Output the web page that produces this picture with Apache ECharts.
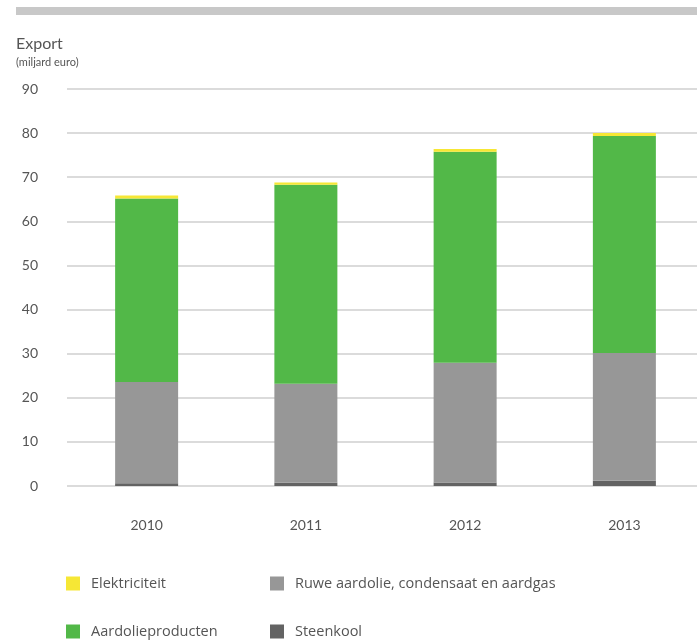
<!DOCTYPE html>
<html>
<head>
<meta charset="utf-8">
<script src="https://cdn.jsdelivr.net/npm/echarts@6/dist/echarts.min.js"></script>
<style>
  html, body { margin: 0; padding: 0; background: #fff; }
  #chart { width: 697px; height: 640px; }
</style>
</head>
<body>
<div id="chart"></div>
<script>
const years = ['2010', '2011', '2012', '2013'];
const steenkool = [0.6, 0.75, 0.8, 1.2];
const ruwe = [23.0, 22.45, 27.15, 28.95];
const aardolieproducten = [41.6, 45.1, 47.85, 49.2];
const elektriciteit = [0.68, 0.53, 0.6, 0.68];
const yTicks = [0, 10, 20, 30, 40, 50, 60, 70, 80, 90];

const font = 'Lato';
const textColor = '#555';

var dom = document.getElementById('chart');
var myChart = echarts.init(dom, null, { renderer: 'canvas' });

function bar(name, data, color) {
    return {
        name: name,
        type: 'bar',
        stack: 'export',
        barWidth: 63,
        data: data,
        itemStyle: { color: color },
        emphasis: { disabled: true }
    };
}

// een legenda per item, zodat ze in twee kolommen staan
function legendItem(name, left, top) {
    return {
        left: left,
        top: top,
        itemWidth: 14,
        itemHeight: 14,
        icon: 'rect',
        selectedMode: false,
        data: [name],
        textStyle: { fontFamily: 'Open Sans', fontSize: 14.5, color: textColor, padding: [0, 0, 0, 6] }
    };
}

const option = {
    animation: false,
    textStyle: { fontFamily: font },
    graphic: [
        // grijze balk bovenaan
        { type: 'rect', left: 16, top: 7, shape: { width: 681, height: 8 }, style: { fill: '#c8c8c8' } }
    ],
    title: {
        text: 'Export',
        subtext: '(miljard euro)',
        left: 11,
        top: 31,
        itemGap: 5,
        textStyle: { fontFamily: font, fontSize: 16, fontWeight: 'normal', color: textColor },
        subtextStyle: { fontFamily: font, fontSize: 11, color: textColor }
    },
    legend: [
        legendItem('Elektriciteit', 61, 571),
        legendItem('Ruwe aardolie, condensaat en aardgas', 265, 571),
        legendItem('Aardolieproducten', 61, 619),
        legendItem('Steenkool', 265, 619)
    ],
    grid: {
        left: 67,
        width: 637,
        top: 89,
        bottom: 154,
        outerBoundsMode: 'none'
    },
    xAxis: {
        type: 'category',
        data: years,
        axisLine: { show: false },
        axisTick: { show: false },
        axisLabel: { margin: 32, fontSize: 14, color: textColor, fontFamily: font }
    },
    yAxis: {
        type: 'value',
        min: yTicks[0],
        max: yTicks[yTicks.length - 1],
        interval: 10,
        axisLine: { show: false },
        axisTick: { show: false },
        axisLabel: { margin: 29, fontSize: 14, color: textColor, fontFamily: font },
        splitLine: { lineStyle: { color: '#cfcfcf', width: 1.5 } }
    },
    series: [
        bar('Steenkool', steenkool, '#636363'),
        bar('Ruwe aardolie, condensaat en aardgas', ruwe, '#979797'),
        bar('Aardolieproducten', aardolieproducten, '#52b848'),
        bar('Elektriciteit', elektriciteit, '#f6e735')
    ]
};

myChart.setOption(option);
window.addEventListener('resize', myChart.resize);
</script>
</body>
</html>
